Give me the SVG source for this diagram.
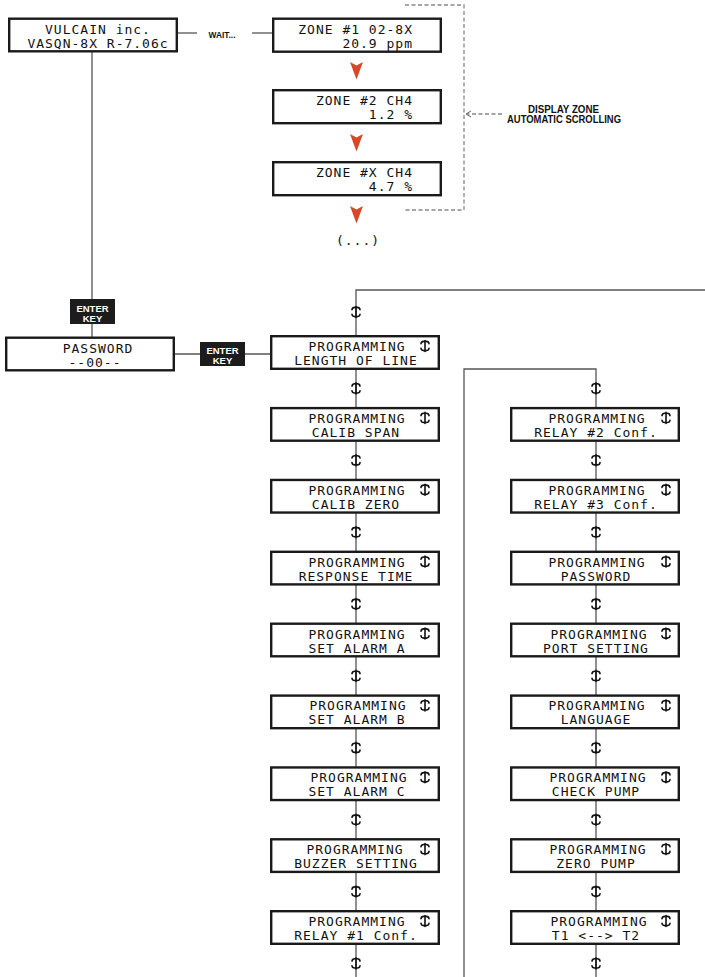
<svg xmlns="http://www.w3.org/2000/svg" width="705" height="977" viewBox="0 0 705 977">
<style>
.box{fill:#fff;stroke:#1a1a1a;stroke-width:2.4}
.t{font-family:"DejaVu Sans Mono","Liberation Mono",monospace;font-size:13px;letter-spacing:1px;fill:#111;text-anchor:middle}
.r{text-anchor:end}
.lab{font-family:"Liberation Sans",Arial,sans-serif;font-weight:bold;fill:#111;text-anchor:middle}
.key{fill:#1c1c1c}
.kt{font-family:"Liberation Sans",Arial,sans-serif;font-weight:bold;font-size:9.5px;fill:#fff;text-anchor:middle}
.c{fill:none;stroke:#555;stroke-width:1.3}
.d{fill:none;stroke:#888;stroke-width:1.3;stroke-dasharray:4 2.5}
.ud{fill:none;stroke:#111;stroke-width:1.6;stroke-linecap:round}
.tri{fill:#d9472b}
</style>
<defs>
<path id="ud" class="ud" d="M0,-5.5 V5.5 M-4,-2.3 Q-3.8,-4.6 -1.2,-4.6 H1.2 Q3.8,-4.6 4,-2.3 M-4,2.3 Q-3.8,4.6 -1.2,4.6 H1.2 Q3.8,4.6 4,2.3"/>
<path id="tri" class="tri" d="M-6.5,0 L0,3.5 L6.5,0 L0,17.5 Z"/>
</defs>

<g id="connectors">
  <line class="c" x1="178" y1="33" x2="197" y2="33"/>
  <line class="c" x1="252" y1="33" x2="272" y2="33"/>
  <line class="c" x1="92" y1="52" x2="92" y2="337"/>
  <line class="c" x1="175" y1="354" x2="270" y2="354"/>
  <polyline class="c" points="705,290 356,290 356,977"/>
  <polyline class="c" points="596,977 596,369 464,369 464,977"/>
  <polyline class="d" points="405,5 464,5 464,210 405,210"/>
  <line class="d" x1="502" y1="114" x2="467" y2="114"/>
  <path d="M471,111 L466,114 L471,117" fill="none" stroke="#666" stroke-width="1"/>
  <use href="#tri" x="356.5" y="62"/>
  <use href="#tri" x="356.5" y="134"/>
  <use href="#tri" x="356.5" y="206"/>
  <use href="#ud" x="356" y="312"/>
  <use href="#ud" x="356" y="388.4"/>
  <use href="#ud" x="356" y="460.3"/>
  <use href="#ud" x="356" y="532.2"/>
  <use href="#ud" x="356" y="604"/>
  <use href="#ud" x="356" y="675.9"/>
  <use href="#ud" x="356" y="747.8"/>
  <use href="#ud" x="356" y="819.7"/>
  <use href="#ud" x="356" y="891.5"/>
  <use href="#ud" x="356" y="963.4"/>
  <use href="#ud" x="596" y="388.4"/>
  <use href="#ud" x="596" y="460.3"/>
  <use href="#ud" x="596" y="532.2"/>
  <use href="#ud" x="596" y="604"/>
  <use href="#ud" x="596" y="675.9"/>
  <use href="#ud" x="596" y="747.8"/>
  <use href="#ud" x="596" y="819.7"/>
  <use href="#ud" x="596" y="891.5"/>
  <use href="#ud" x="596" y="963.4"/>
</g>

<g id="wait-label"><text class="lab" x="222" y="37.5" font-size="9" textLength="27" lengthAdjust="spacingAndGlyphs">WAIT...</text></g>
<g id="scroll-label">
  <text class="lab" x="563.5" y="112.5" font-size="10" textLength="71" lengthAdjust="spacingAndGlyphs">DISPLAY ZONE</text>
  <text class="lab" x="564" y="122.5" font-size="10" textLength="114" lengthAdjust="spacingAndGlyphs">AUTOMATIC SCROLLING</text>
</g>
<g id="ellipsis"><text class="t" x="358" y="245" font-size="14" letter-spacing="0">(...)</text></g>

<g id="n-vulcain" transform="translate(8,17.5)">
  <rect class="box" x="1.2" y="1.2" width="167.6" height="32.6"/>
  <text class="t" x="90" y="16">VULCAIN inc.</text>
  <text class="t" x="90" y="30.5">VASQN-8X R-7.06c</text>
</g>
<g id="n-zone1" transform="translate(272,17.5)">
  <rect class="box" x="1.2" y="1.2" width="167.6" height="33"/>
  <text class="t r" x="141" y="16">ZONE #1 02-8X</text>
  <text class="t r" x="141" y="30">20.9 ppm</text>
</g>
<g id="n-zone2" transform="translate(272,89)">
  <rect class="box" x="1.2" y="1.2" width="167.6" height="33"/>
  <text class="t r" x="141" y="16">ZONE #2 CH4</text>
  <text class="t r" x="141" y="30">1.2 %</text>
</g>
<g id="n-zonex" transform="translate(272,161)">
  <rect class="box" x="1.2" y="1.2" width="167.6" height="33"/>
  <text class="t r" x="141" y="16">ZONE #X CH4</text>
  <text class="t r" x="141" y="30">4.7 %</text>
</g>

<g id="key1">
  <rect class="key" x="70" y="299" width="45" height="25"/>
  <text class="kt" x="92.5" y="312">ENTER</text>
  <text class="kt" x="92.5" y="322">KEY</text>
</g>
<g id="key2">
  <rect class="key" x="200" y="342" width="45" height="24"/>
  <text class="kt" x="222.5" y="353.5">ENTER</text>
  <text class="kt" x="222.5" y="363.5">KEY</text>
</g>

<g id="n-password" transform="translate(5,336.5)">
  <rect class="box" x="1.2" y="1.2" width="167.6" height="32.6"/>
  <text class="t" x="93" y="16">PASSWORD</text>
  <text class="t" x="90" y="30">--00--</text>
</g>

<g id="n-length" transform="translate(270,335)">
  <rect class="box" x="1.2" y="1.2" width="167.6" height="32.6"/>
  <text class="t" x="87" y="16">PROGRAMMING</text><text class="t" x="86" y="30">LENGTH OF LINE</text>
  <use href="#ud" x="155" y="11"/>
</g>
<g id="n-span" transform="translate(270,406.9)">
  <rect class="box" x="1.2" y="1.2" width="167.6" height="32.6"/>
  <text class="t" x="87" y="16">PROGRAMMING</text><text class="t" x="86" y="30">CALIB SPAN</text>
  <use href="#ud" x="155" y="11"/>
</g>
<g id="n-zero" transform="translate(270,478.75)">
  <rect class="box" x="1.2" y="1.2" width="167.6" height="32.6"/>
  <text class="t" x="87" y="16">PROGRAMMING</text><text class="t" x="86" y="30">CALIB ZERO</text>
  <use href="#ud" x="155" y="11"/>
</g>
<g id="n-response" transform="translate(270,550.6)">
  <rect class="box" x="1.2" y="1.2" width="167.6" height="32.6"/>
  <text class="t" x="87" y="16">PROGRAMMING</text><text class="t" x="86" y="30">RESPONSE TIME</text>
  <use href="#ud" x="155" y="11"/>
</g>
<g id="n-alarma" transform="translate(270,622.5)">
  <rect class="box" x="1.2" y="1.2" width="167.6" height="32.6"/>
  <text class="t" x="87" y="16">PROGRAMMING</text><text class="t" x="87" y="30">SET ALARM A</text>
  <use href="#ud" x="155" y="11"/>
</g>
<g id="n-alarmb" transform="translate(270,694.4)">
  <rect class="box" x="1.2" y="1.2" width="167.6" height="32.6"/>
  <text class="t" x="88" y="16">PROGRAMMING</text><text class="t" x="87" y="30">SET ALARM B</text>
  <use href="#ud" x="155" y="11"/>
</g>
<g id="n-alarmc" transform="translate(270,766.25)">
  <rect class="box" x="1.2" y="1.2" width="167.6" height="32.6"/>
  <text class="t" x="89" y="16">PROGRAMMING</text><text class="t" x="87" y="30">SET ALARM C</text>
  <use href="#ud" x="155" y="11"/>
</g>
<g id="n-buzzer" transform="translate(270,838.1)">
  <rect class="box" x="1.2" y="1.2" width="167.6" height="32.6"/>
  <text class="t" x="85" y="16">PROGRAMMING</text><text class="t" x="86" y="30">BUZZER SETTING</text>
  <use href="#ud" x="155" y="11"/>
</g>
<g id="n-relay1" transform="translate(270,910)">
  <rect class="box" x="1.2" y="1.2" width="167.6" height="32.6"/>
  <text class="t" x="87" y="16">PROGRAMMING</text><text class="t" x="86" y="30">RELAY #1 Conf.</text>
  <use href="#ud" x="155" y="11"/>
</g>

<g id="n-relay2" transform="translate(510,406.9)">
  <rect class="box" x="1.2" y="1.2" width="167.6" height="32.6"/>
  <text class="t" x="87" y="16">PROGRAMMING</text><text class="t" x="86" y="30">RELAY #2 Conf.</text>
  <use href="#ud" x="156" y="11"/>
</g>
<g id="n-relay3" transform="translate(510,478.75)">
  <rect class="box" x="1.2" y="1.2" width="167.6" height="32.6"/>
  <text class="t" x="87" y="16">PROGRAMMING</text><text class="t" x="86" y="30">RELAY #3 Conf.</text>
  <use href="#ud" x="156" y="11"/>
</g>
<g id="n-pass2" transform="translate(510,550.6)">
  <rect class="box" x="1.2" y="1.2" width="167.6" height="32.6"/>
  <text class="t" x="87" y="16">PROGRAMMING</text><text class="t" x="86" y="30">PASSWORD</text>
  <use href="#ud" x="156" y="11"/>
</g>
<g id="n-port" transform="translate(510,622.5)">
  <rect class="box" x="1.2" y="1.2" width="167.6" height="32.6"/>
  <text class="t" x="89" y="16">PROGRAMMING</text><text class="t" x="86" y="30">PORT SETTING</text>
  <use href="#ud" x="156" y="11"/>
</g>
<g id="n-language" transform="translate(510,694.4)">
  <rect class="box" x="1.2" y="1.2" width="167.6" height="32.6"/>
  <text class="t" x="87" y="16">PROGRAMMING</text><text class="t" x="86" y="30">LANGUAGE</text>
  <use href="#ud" x="156" y="11"/>
</g>
<g id="n-check" transform="translate(510,766.25)">
  <rect class="box" x="1.2" y="1.2" width="167.6" height="32.6"/>
  <text class="t" x="88" y="16">PROGRAMMING</text><text class="t" x="86" y="30">CHECK PUMP</text>
  <use href="#ud" x="156" y="11"/>
</g>
<g id="n-zeropump" transform="translate(510,838.1)">
  <rect class="box" x="1.2" y="1.2" width="167.6" height="32.6"/>
  <text class="t" x="88" y="16">PROGRAMMING</text><text class="t" x="86" y="30">ZERO PUMP</text>
  <use href="#ud" x="156" y="11"/>
</g>
<g id="n-t1t2" transform="translate(510,910)">
  <rect class="box" x="1.2" y="1.2" width="167.6" height="32.6"/>
  <text class="t" x="89" y="16">PROGRAMMING</text><text class="t" x="86" y="30">T1 &lt;--&gt; T2</text>
  <use href="#ud" x="156" y="11"/>
</g>
</svg>
